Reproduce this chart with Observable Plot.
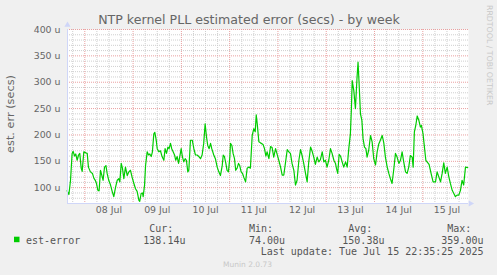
<!DOCTYPE html>
<html>
<head>
<meta charset="utf-8">
<script src="https://cdn.jsdelivr.net/npm/d3@7"></script>
<script src="https://cdn.jsdelivr.net/npm/@observablehq/plot@0.6"></script>
<style>
  html, body { margin: 0; padding: 0; background: #f0f0f0; }
  #chart { width: 497px; height: 275px; }
</style>
</head>
<body>
<div id="chart"></div>
<script>
// hours since 2025-07-08 00:00 UTC
const hours = [
  -8.8,-7.9,-7.1,-6.3,-5.8,-5.1,-4.5,-3.8,-3.1,-2.5,-1.8,-1.3,-0.5,0.5,1.2,1.8,2.8,3.8,4.5,5.2,
  5.8,6.5,7.1,7.8,8.5,9.1,9.8,10.5,11.1,11.9,12.8,13.6,14.4,15.3,16.1,16.9,17.4,18.1,18.7,19.4,
  20.2,21.1,21.9,22.7,23.5,24.4,25.2,26.0,26.9,27.3,28.0,28.7,29.0,29.7,30.2,31.0,31.7,32.3,33.0,33.6,
  34.3,34.8,35.5,36.0,36.8,37.6,38.4,39.3,39.9,40.6,41.3,41.9,42.6,43.2,43.9,44.6,45.2,45.9,46.6,47.2,
  47.9,48.5,49.2,49.9,50.5,51.2,51.7,52.5,53.4,54.2,55.0,55.8,56.7,57.5,58.3,59.1,59.8,60.5,61.1,61.8,
  62.5,63.1,64.1,64.9,65.8,66.6,67.4,68.3,68.8,69.4,70.1,70.7,71.4,72.1,72.4,73.1,73.7,74.4,75.0,75.7,
  76.4,77.0,77.7,78.4,79.0,79.9,80.7,81.5,82.3,
  83.2,84.0,84.7,85.2,85.7,86.5,87.3,88.6,89.3,90.0,90.6,91.5,92.3,93.1,93.9,94.8,95.6,96.4,97.3,98.1,
  98.9,99.7,100.6,101.4,102.2,103.0,103.9,104.7,105.5,106.4,107.2,108.0,108.8,109.7,110.5,111.3,112.2,113.0,113.8,114.6,
  115.5,116.3,117.1,118.0,118.8,119.6,120.4,121.3,122.1,122.9,123.8,124.6,125.1,125.7,126.4,127.1,127.9,128.7,129.6,130.4,
  131.2,132.0,132.5,132.9,133.7,134.5,135.3,135.8,136.3,137.0,137.7,138.3,139.0,139.7,140.3,141.1,142.0,142.8,143.6,144.5,
  145.3,146.1,146.9,147.8,148.6,149.4,150.3,151.1,151.9,152.7,153.6,154.4,155.2,156.1,156.9,157.7,158.5,159.4,160.2,161.0,
  161.8,162.7,163.2,163.8,164.5,165.2,166.0,166.8,167.3,168.1,168.8,169.5,170.1,171.1,172.1,173.1,174.3,175.1,175.9,176.8,
  177.6,178.4,179.2,180.1,180.9,181.7,182.6,183.4,184.2,185.0,185.9,186.7,187.5,188.3,189.2,190.3
];
// estimated error, microseconds
const estError = [
  94,87,114,165,169,160,164,152,162,165,137,131,168,166,165,139,130,127,118,114,
  108,95,94,133,123,114,139,142,127,114,105,93,83,101,114,117,111,146,137,117,
  139,123,130,133,120,108,98,93,76,74,89,90,83,105,142,168,162,164,159,168,
  202,205,190,174,168,170,159,152,174,165,177,174,184,174,168,162,152,159,146,159,
  174,159,149,155,152,130,133,190,190,174,162,162,159,155,162,184,221,196,180,174,
  184,174,162,155,139,130,123,142,162,159,146,133,130,159,184,180,165,155,133,137,
  146,142,130,127,120,111,137,139,137,
  199,212,206,238,221,187,185,182,174,160,168,155,178,176,158,174,163,152,139,124,
  124,146,172,168,165,146,133,105,114,152,172,161,146,127,111,149,177,169,158,144,
  158,149,153,168,149,152,139,153,174,165,152,146,136,127,163,160,149,139,149,139,
  174,202,250,303,284,250,309,338,300,240,228,193,177,174,158,171,199,187,155,143,
  168,183,190,199,185,158,139,127,117,108,136,165,158,146,152,168,149,130,127,139,
  161,158,139,206,218,236,228,215,218,202,177,152,149,144,127,111,111,130,121,111,
  127,147,127,139,121,108,95,89,83,86,86,95,114,105,139,138
];

const yMajor = [100, 150, 200, 250, 300, 350, 400];
const yMinor = d3.range(70, 401, 10);
const dayLabels = ["08 Jul","09 Jul","10 Jul","11 Jul","12 Jul","13 Jul","14 Jul","15 Jul"];
const legendName = "est-error";
const legendHeads = ["Cur:", "Min:", "Avg:", "Max:"];
const legendVals = ["138.14u", "74.00u", "150.38u", "359.00u"];
const titleText = "NTP kernel PLL estimated error (secs) - by week";
const yLabelText = "est. err (secs)";
const lastUpdate = "Last update: Tue Jul 15 22:35:25 2025";

const base = Date.UTC(2025, 6, 8);
const H = 3600e3;
const toDate = h => new Date(base + h * H);
const data = hours.map((h, i) => ({t: toDate(h), v: estError[i]}));
const xStart = toDate(-8.6), xEnd = toDate(190.7);
const midnights = d3.range(0, 8).map(d => toDate(d * 24));
const sixHours = d3.range(-6, 190, 6).filter(h => h % 24 !== 0).map(toDate);
const noons = dayLabels.map((_, i) => toDate(i * 24 + 12));

const chart = Plot.plot({
  width: 497, height: 275,
  marginLeft: 67, marginRight: 29, marginTop: 29, marginBottom: 72,
  style: {background: "#f0f0f0", color: "#666", fontFamily: "DejaVu Sans", overflow: "visible"},
  x: {type: "utc", domain: [xStart, xEnd], axis: null},
  y: {domain: [70, 400], axis: null},
  marks: [
    Plot.frame({fill: "white", stroke: null}),
    Plot.ruleY(yMinor.filter(d => d % 50 !== 0), {stroke: "#cfcfcf", strokeDasharray: "1,1"}),
    Plot.ruleX(sixHours, {stroke: "#cfcfcf", strokeDasharray: "1,1"}),
    Plot.ruleY(yMajor, {stroke: "#eaa0a0", strokeDasharray: "1,1"}),
    Plot.ruleX(midnights, {stroke: "#eaa0a0", strokeDasharray: "1,1"}),
    Plot.line(data, {x: "t", y: "v", stroke: "#00cc00", strokeWidth: 1.2}),
    Plot.ruleX([xStart], {stroke: "#cfd6f8", y1: 70, y2: 400}),
    Plot.ruleY([70], {stroke: "#cfd6f8", x1: xStart, x2: xEnd}),
    Plot.dot([{t: xStart, v: 400}], {x: "t", y: "v", symbol: "triangle", r: 2.3, fill: "#cfd6f8", dy: -4.5}),
    Plot.dot([{t: xEnd, v: 70}], {x: "t", y: "v", symbol: "triangle", r: 2.3, fill: "#cfd6f8", rotate: 90, dx: 2}),
    Plot.axisY(yMajor, {tickFormat: d => `${d} u`, tickSize: 0, tickPadding: 7, fontSize: 9.4, label: null}),
    Plot.axisX(noons, {tickFormat: (d, i) => dayLabels[i], tickSize: 0, tickPadding: 3, fontSize: 9.4, label: null})
  ]
});

const svg = d3.select(chart);
const addText = (x, y, s, opts = {}) => svg.append("text")
  .attr("x", x).attr("y", y)
  .attr("text-anchor", opts.anchor || "start")
  .attr("font-family", opts.family || "DejaVu Sans")
  .attr("font-size", opts.size || 10)
  .attr("fill", opts.fill || "#555")
  .attr("transform", opts.transform || null)
  .text(s);

addText(249, 23.5, titleText, {anchor: "middle", size: 12.6, fill: "#666"});
addText(0, 0, yLabelText, {anchor: "middle", size: 11.3, fill: "#666", transform: "translate(14,114) rotate(-90)"});
addText(0, 0, "RRDTOOL / TOBI OETIKER", {size: 7.8, fill: "#c8c8c8", transform: "translate(487,5) rotate(90)"});

const mono = "DejaVu Sans Mono";
svg.append("rect").attr("x", 14).attr("y", 236.7).attr("width", 5.5).attr("height", 5.5).attr("fill", "#00cc00");
addText(26, 243.5, legendName, {family: mono});
const headX = [149.3, 249, 348.3, 447.3];
const valX = [143.3, 249, 342.3, 441.3];
legendHeads.forEach((s, i) => {
  addText(headX[i], 231.5, s, {family: mono});
  addText(valX[i], 243.5, legendVals[i], {family: mono});
});
addText(260.7, 255, lastUpdate, {family: mono}).attr("xml:space", "preserve");
addText(223, 266.5, "Munin 2.0.73", {size: 7.5, fill: "#c8c8c8"});

document.getElementById("chart").appendChild(chart);
</script>
</body>
</html>
